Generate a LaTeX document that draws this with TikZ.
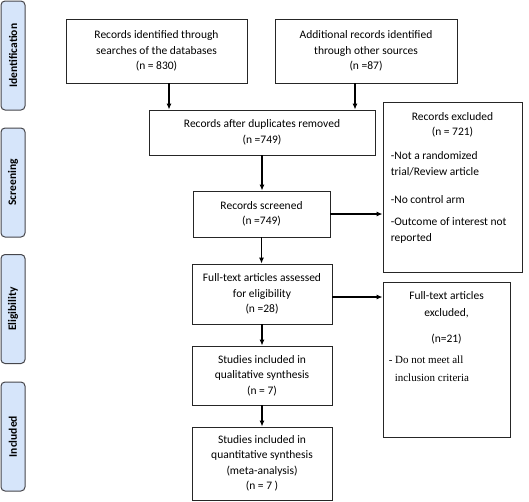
\documentclass[tikz,border=0pt]{standalone}
\usepackage{fontspec}
\setmainfont{Carlito}
\newfontfamily\timesrm{Liberation Serif}
\usetikzlibrary{arrows.meta,positioning,calc}
\definecolor{PhaseBlue}{RGB}{214,229,250}
\definecolor{PhaseEdge}{RGB}{70,70,75}
\tikzset{
  phase/.style={draw=PhaseEdge,fill=PhaseBlue,rounded corners=4pt,line width=1pt,
    rotate=90,minimum width=109pt,minimum height=24pt,inner sep=0pt,
    font=\fontsize{11.5}{14}\selectfont\bfseries},
  box/.style={draw=black!85,line width=0.8pt,inner sep=0pt,align=center,
    font=\fontsize{11.5}{15.5}\selectfont},
  note/.style={inner sep=0pt,font=\fontsize{11.5}{15.5}\selectfont},
  arrow/.style={-{Latex[length=6pt,width=5pt]},line width=1.4pt}
}
\begin{document}
\begin{tikzpicture}[x=1pt,y=-1pt]
  \useasboundingbox (0,0) rectangle (529,501);

  % phases
  \node[phase] (ph1) at (13,55.5) {Identification};
  \node[phase] (ph2) at (13,182.5) {Screening};
  \node[phase] (ph3) at (13,309) {Eligibility};
  \node[phase] (ph4) at (13,436.5) {Included};

  % main flow
  \node[box,minimum width=181pt,minimum height=64pt] (dbase) at (156.5,51)
    {Records identified through\\searches of the databases\\(n = 830)};
  \node[box,minimum width=182pt,minimum height=64pt] (other) at (366,51)
    {Additional records identified\\through other sources\\(n =87)};
  \node[box,minimum width=226pt,minimum height=45pt] (dupl) at (262,132.5)
    {Records after duplicates removed\\(n =749)};
  \node[box,minimum width=137pt,minimum height=46pt] (screen) at (261.5,214)
    {Records screened\\(n =749)};
  \node[box,minimum width=140pt,minimum height=60pt] (fulltext) at (262,294)
    {Full-text articles assessed\\for eligibility\\(n =28)};
  \node[box,minimum width=140pt,minimum height=59pt] (qual) at (262,375.5)
    {Studies included in\\qualitative synthesis\\(n = 7)};
  \node[box,minimum width=140pt,minimum height=73pt] (quant) at (262,463.5)
    {Studies included in\\quantitative synthesis\\(meta-analysis)\\(n = 7 )};

  % exclusions
  \node[box,minimum width=139pt,minimum height=170pt] (excl) at (452.5,187) {};
  \node[note,align=center] at ([yshift=-23pt]excl.north)
    {Records excluded\\(n = 721)};
  \node[note,anchor=north west,align=left] at ([xshift=8pt,yshift=-50pt]excl.north west)
    {-Not a randomized\\trial/Review article};
  \node[note,anchor=west] at ([xshift=8pt,yshift=-98pt]excl.north west)
    {-No control arm};
  \node[note,anchor=north west,align=left] at ([xshift=8pt,yshift=-116pt]excl.north west)
    {-Outcome of interest not\\reported};

  \node[box,minimum width=127pt,minimum height=155pt] (excl2) at (446.5,359.5) {};
  \node[note,align=center,font=\fontsize{11.5}{17}\selectfont] at ([yshift=-23.5pt]excl2.north)
    {Full-text articles\\excluded,};
  \node[note] at ([yshift=-57pt]excl2.north) {(n=21)};
  \node[note,anchor=north west,align=left,font=\timesrm\fontsize{11}{18}\selectfont]
    at ([xshift=6pt,yshift=-74pt]excl2.north west)
    {- Do not meet all\\\hspace*{6pt}inclusion criteria};

  % connectors
  \draw[arrow] ([xshift=12.5pt]dbase.south) -- ([xshift=12.5pt]dbase.south |- dupl.north);
  \draw[arrow] ([xshift=-11pt]other.south) -- ([xshift=-11pt]other.south |- dupl.north);
  \draw[arrow] (dupl.south) -- (dupl.south |- screen.north);
  \draw[arrow] (screen.east) -- (screen.east -| excl.west);
  \draw[arrow] (screen.south) -- (screen.south |- fulltext.north);
  \draw[arrow] ([yshift=-3pt]fulltext.east) -- ([yshift=-3pt]fulltext.east -| excl2.west);
  \draw[arrow] (fulltext.south) -- (qual.north);
  \draw[arrow] (qual.south) -- (quant.north);
\end{tikzpicture}
\end{document}
